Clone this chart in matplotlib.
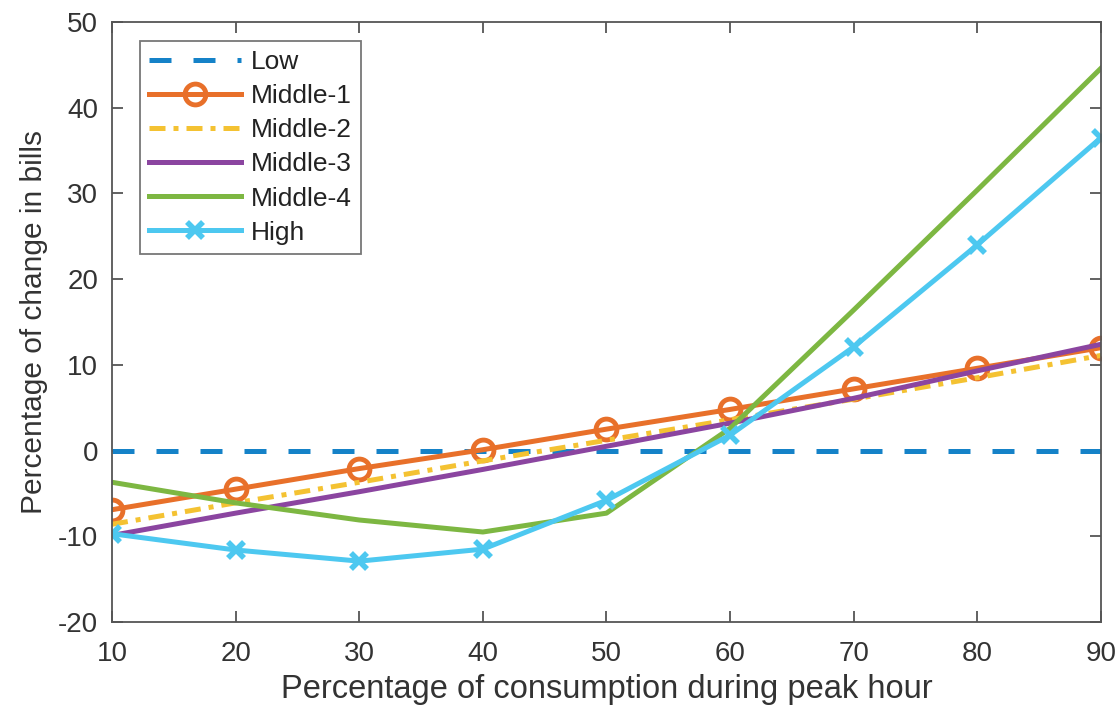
import matplotlib
matplotlib.use("Agg")
import matplotlib.pyplot as plt

plt.rcParams['font.family'] = ['Liberation Sans', 'DejaVu Sans']
plt.rcParams['axes.unicode_minus'] = False

x = [10, 20, 30, 40, 50, 60, 70, 80, 90]
low = [0, 0, 0, 0, 0, 0, 0, 0, 0]
middle1 = [-6.9, -4.5, -2.1, 0.1, 2.5, 4.8, 7.2, 9.6, 12.0]
middle2 = [-8.6, -6.1, -3.7, -1.2, 1.2, 3.6, 6.0, 8.5, 11.1]
middle3 = [-9.9, -7.3, -4.8, -2.2, 0.5, 3.2, 6.1, 9.3, 12.4]
middle4 = [-3.7, -6.1, -8.1, -9.5, -7.3, 2.6, 16.4, 30.4, 44.6]
high = [-9.7, -11.6, -12.9, -11.5, -5.8, 1.8, 12.1, 24.0, 36.5]

labels = ['Low', 'Middle-1', 'Middle-2', 'Middle-3', 'Middle-4', 'High']
xticks = [10, 20, 30, 40, 50, 60, 70, 80, 90]
yticks = [-20, -10, 0, 10, 20, 30, 40, 50]

fig = plt.figure(figsize=(11.2, 7.09), dpi=100)
ax = fig.add_axes([0.1, 0.1227, 0.883, 0.8463])

lw = 3.6
ax.plot(x, low, color='#1582C8', lw=lw, linestyle=(0, (4.4, 4.4)), label=labels[0])
ax.plot(x, middle1, color='#E8702A', lw=lw, marker='o', markersize=15,
        markerfacecolor='none', markeredgewidth=3.5, label=labels[1])
ax.plot(x, middle2, color='#F4C232', lw=lw, linestyle=(0, (3.2, 1.6, 1.0, 1.6)), label=labels[2])
ax.plot(x, middle3, color='#8B45A0', lw=lw, label=labels[3])
ax.plot(x, middle4, color='#7DB742', lw=lw, label=labels[4])
ax.plot(x, high, color='#4DC8F0', lw=lw, marker='x', markersize=11,
        markeredgewidth=4, label=labels[5])

ax.set_xlim(10, 90)
ax.set_ylim(-20, 50)
ax.set_xticks(xticks)
ax.set_yticks(yticks)
ax.tick_params(direction='in', top=True, right=True, length=8, width=1.3,
               color='#555555', labelsize=20, labelcolor='#333333')
ax.tick_params(axis='x', pad=14)
ax.tick_params(axis='y', pad=10)
for s in ax.spines.values():
    s.set_color('#555555')
    s.set_linewidth(1.3)

ax.set_xlabel('Percentage of consumption during peak hour', fontsize=23.5, color='#333333', labelpad=5)
ax.set_ylabel('Percentage of change in bills', fontsize=21.5, color='#333333', labelpad=7)

leg = ax.legend(loc='upper left', bbox_to_anchor=(0.028, 0.968), fontsize=19,
                handlelength=3.5, frameon=True, fancybox=False, borderpad=0.35,
                labelspacing=0.38, handletextpad=0.35, borderaxespad=0)
leg.get_frame().set_edgecolor('#555555')
leg.get_frame().set_linewidth(1.3)
for t in leg.get_texts():
    t.set_color('#222222')

fig.savefig('out.png', dpi=100)
